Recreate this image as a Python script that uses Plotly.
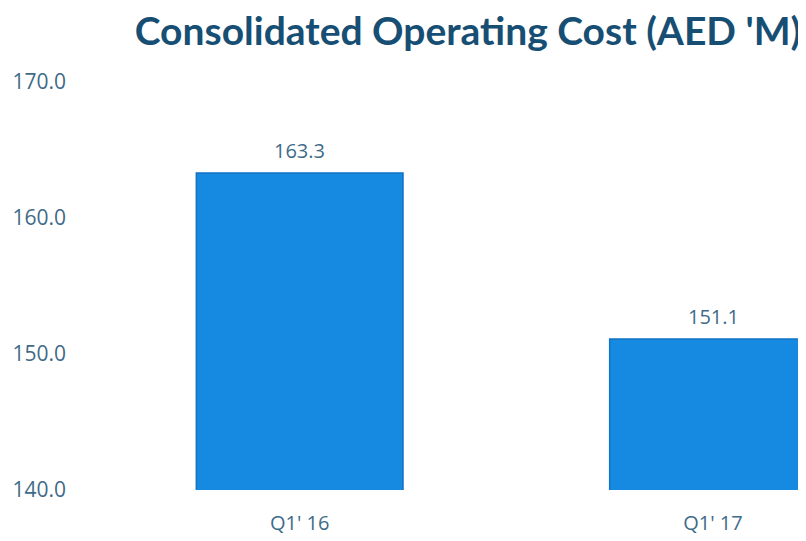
import plotly.graph_objects as go

categories = ["Q1' 16", "Q1' 17"]
values = [163.3, 151.1]
y_ticks = [140, 150, 160, 170]
y_tick_labels = ["140.0", "150.0", "160.0", "170.0"]
value_labels = ["163.3", "151.1"]

W, H = 798, 533
label_color = "#3f6b88"
fig = go.Figure()
fig.add_trace(go.Bar(
    x=categories, y=values, width=0.5,
    marker=dict(color="#168ae0", line=dict(color="#1273c4", width=1.5)),
))
for c, v, t in zip(categories, values, value_labels):
    fig.add_annotation(x=c, y=v, text=t, showarrow=False, yshift=23,
                       font=dict(family="Open Sans", size=20, color=label_color))

fig.update_layout(
    width=W, height=H,
    margin=dict(l=85, r=0, t=74, b=51, autoexpand=False),
    paper_bgcolor="white", plot_bgcolor="white",
    showlegend=False,
    title=dict(text="<b>Consolidated Operating Cost (AED 'M)</b>",
               x=460/W, xanchor="center", y=1-23/H, yanchor="middle",
               automargin=False,
               font=dict(family="Lato", size=39, color="#174e73")),
    xaxis=dict(range=[-0.5, 1.225], showgrid=False, zeroline=False, showline=False,
               ticks="", ticklabelstandoff=19, automargin=False,
               tickfont=dict(family="Open Sans", size=20, color=label_color)),
    yaxis=dict(range=[140, 170], tickvals=y_ticks, ticktext=y_tick_labels,
               showgrid=False, zeroline=False, showline=False, ticks="",
               ticklabelstandoff=26, automargin=False,
               tickfont=dict(family="Open Sans", size=21, color=label_color)),
)
fig.write_html("out.html")
